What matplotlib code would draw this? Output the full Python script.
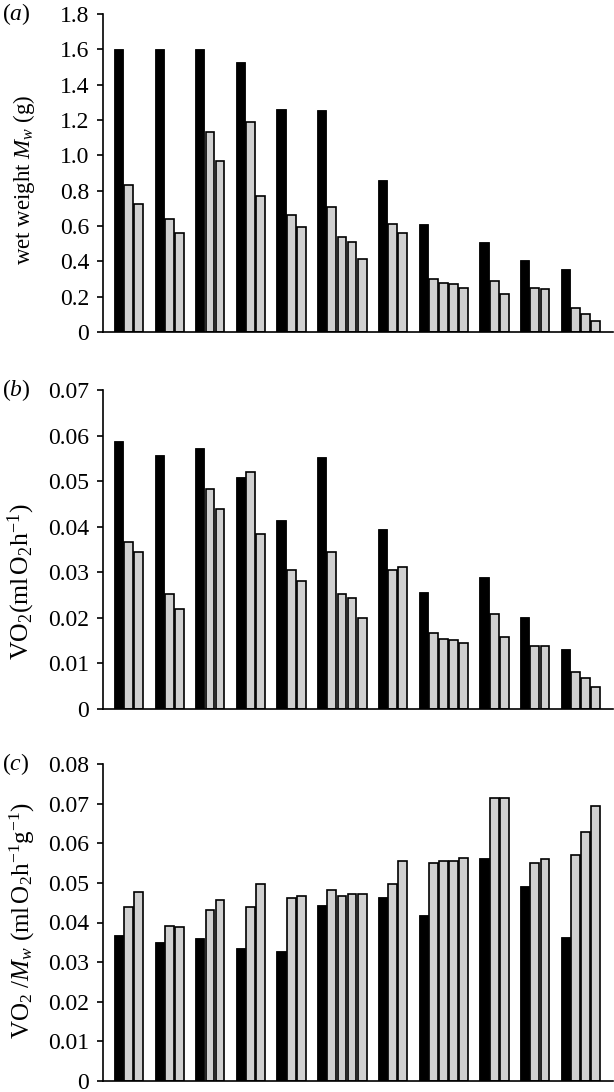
import numpy as np
import matplotlib
matplotlib.use('Agg')
import matplotlib.pyplot as plt

plt.rcParams['font.family'] = ['Liberation Serif', 'DejaVu Serif']
plt.rcParams['mathtext.fontset'] = 'custom'
plt.rcParams['mathtext.rm'] = 'Liberation Serif'
plt.rcParams['mathtext.it'] = 'Liberation Serif:italic'
plt.rcParams['font.size'] = 16

GREY = '#d0d0d0'

# black bar of each group
wet_black = [1.60, 1.60, 1.60, 1.53, 1.26, 1.255, 0.858, 0.614, 0.512, 0.41, 0.359]
# grey bars of each group
wet_grey = [[0.832, 0.724], [0.641, 0.561], [1.134, 0.970], [1.191, 0.771],
            [0.664, 0.595], [0.709, 0.535, 0.508, 0.414], [0.612, 0.561],
            [0.300, 0.278, 0.272, 0.250], [0.289, 0.217], [0.250, 0.244],
            [0.136, 0.102, 0.062]]

vo2_black = [0.0587, 0.0557, 0.0573, 0.0508, 0.0415, 0.0553, 0.0396, 0.0256,
             0.0289, 0.0202, 0.0131]
vo2_grey = [[0.0366, 0.0345], [0.0252, 0.0219], [0.0483, 0.0439], [0.0519, 0.0383],
            [0.0306, 0.0280], [0.0344, 0.0252, 0.0243, 0.0199], [0.0306, 0.0311],
            [0.0167, 0.0154, 0.0151, 0.0144], [0.0209, 0.0157], [0.0139, 0.0139],
            [0.0081, 0.0067, 0.0048]]

rate_black = [0.0369, 0.0352, 0.0361, 0.0336, 0.0329, 0.0445, 0.0464, 0.0419,
              0.0562, 0.0492, 0.0364]
rate_grey = [[0.0438, 0.0476], [0.0392, 0.0389], [0.0431, 0.0456], [0.0438, 0.0498],
             [0.0461, 0.0468], [0.0482, 0.0467, 0.0471, 0.0473], [0.0496, 0.0554],
             [0.0551, 0.0554, 0.0554, 0.0564], [0.0714, 0.0714], [0.0549, 0.0560],
             [0.0570, 0.0628, 0.0694]]

panels = [
    ('a', wet_black, wet_grey, np.arange(0, 1.81, 0.2),
     ['0', '0.2', '0.4', '0.6', '0.8', '1.0', '1.2', '1.4', '1.6', '1.8'],
     r'wet weight $M_w$ (g)', 16.5, 0.478),
    ('b', vo2_black, vo2_grey, np.arange(0, 0.0701, 0.01),
     ['0', '0.01', '0.02', '0.03', '0.04', '0.05', '0.06', '0.07'],
     r'VO$_2$(ml$\,$O$_2$h$^{-1}$)', 18.5, 0.40),
    ('c', rate_black, rate_grey, np.arange(0, 0.0801, 0.01),
     ['0', '0.01', '0.02', '0.03', '0.04', '0.05', '0.06', '0.07', '0.08'],
     r'VO$_2$ /$M_w$ (ml$\,$O$_2$h$^{-1}$g$^{-1}$)', 18, 0.505),
]

# axes boxes in pixels: (top, bottom)
boxes = [(14, 332), (390, 709), (764, 1081)]
W, H = 614, 1092
left_px, right_px = 103, 613

fig = plt.figure(figsize=(W / 100, H / 100), dpi=100)

for (tag, black, grey, ticks, ticklabels, ylabel, lsize, ly), (top, bot) in zip(panels, boxes):
    ax = fig.add_axes([left_px / W, 1 - bot / H, (right_px - left_px) / W, (bot - top) / H])

    # slot positions: black + greys, one empty slot between groups
    pos = 0
    for b, gs in zip(black, grey):
        ax.bar(pos, b, width=0.9, color='black', edgecolor='black', linewidth=0.6)
        gx = pos + 1 + np.arange(len(gs))
        ax.bar(gx, gs, width=0.86, color=GREY, edgecolor='black', linewidth=1.2)
        pos += len(gs) + 2

    ax.set_xlim(-1.53, 48.7)
    ax.set_ylim(ticks[0], ticks[-1])
    ax.set_yticks(ticks)
    ax.set_yticklabels(ticklabels, fontsize=17)
    ax.set_xticks([])
    for s in ['top', 'right']:
        ax.spines[s].set_visible(False)
    for s in ['left', 'bottom']:
        ax.spines[s].set_linewidth(1.2)
    ax.tick_params(axis='y', direction='out', length=4, width=1.2, pad=6)
    ax.set_ylabel(ylabel, fontsize=lsize)
    ax.yaxis.set_label_coords(-0.13, ly)

    fig.text(2 / W, 1 - top / H, '($' + tag + '$)', ha='left', va='center', fontsize=17)

fig.savefig('out.png', dpi=100)
plt.close(fig)
